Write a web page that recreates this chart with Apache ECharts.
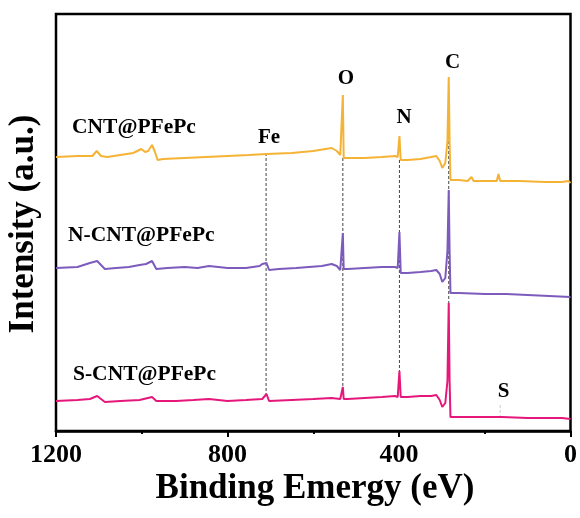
<!DOCTYPE html>
<html>
<head>
<meta charset="utf-8">
<script src="https://cdn.jsdelivr.net/npm/echarts@6/dist/echarts.min.js"></script>
<style>
  html, body { margin: 0; padding: 0; background: #fff; }
  #chart { width: 580px; height: 518px; }
</style>
</head>
<body>
<div id="chart"></div>
<script>
// XPS survey spectra, binding energy (eV) vs intensity (a.u., offset stacked)
const energyTicks = [1200, 800, 400, 0];

const cntEnergy = [1200,1150,1115,1105,1095,1080,1050,1020,1001,992,985,976,970,963,950,900,850,800,750,710,650,600,557,545,537,533,531,529,520,480,440,409,403,399,396,380,350,325,313,305,299,292,287,284,282,280,260,240,231,226,200,172,168,164,120,60,20,5,0];
const cntIntensity = [274,275,275,280,275,274,276,278,282,279,280,286,280,271,272,273,274,275,276,277,278,280,283,280,276,277,336,273,273,273,274,275,274,295,271,271,272,274,275,270,263,268,290,354,290,251,251,250,254,250,250,250,257,250,250,249,249,250,248];

const nEnergy = [1200,1150,1121,1104,1086,1060,1030,1005,990,976,966,940,900,870,843,800,757,725,719,709,703,680,640,580,557,545,537,533,531,529,520,480,440,409,403,399,396,380,350,325,313,305,299,292,287,284,282,280,260,200,150,100,50,0];
const nIntensity = [163,164,168,170,162,163,164,166,167,170,162,163,164,163,165,163,163,165,167,168,161,162,163,165,167,165,161,163,198,162,162,163,164,164,163,199,158,158,159,160,161,157,149,153,180,241,180,138,138,137,137,136,135,134];

const sEnergy = [1200,1150,1121,1104,1086,1050,1005,976,966,920,880,843,800,757,719,709,703,650,600,557,537,533,531,529,520,480,440,409,403,399,396,380,350,325,313,305,299,292,287,284,282,280,260,200,160,100,50,20,0];
const sIntensity = [30,31,32,35,29,30,31,34,30,30,31,32,30,31,32,37,30,31,32,33,32,32,44,32,32,33,34,35,34,60,34,34,35,35,36,31,24,28,50,128,50,14,14,14,14,13,13,13,12];

// element reference lines: energy, upper and lower intensity
const refNames = ['Fe', 'O', 'N', 'C', 'S'];
const refEnergy = [710, 531, 399, 284, 164];
const refTop = [278, 273, 271, 300, 26];
const refBottom = [34, 44, 60, 128, 15];
const refColors = ['#444', '#444', '#444', '#444', '#ccc'];

const seriesNames = ['CNT@PFePc', 'N-CNT@PFePc', 'S-CNT@PFePc'];
const seriesColors = ['#F5B336', '#7C5BBC', '#E6177B'];

const FONT = '"Times New Roman", "Liberation Serif", serif';

function pairs(xs, ys) { return xs.map((x, i) => [x, ys[i]]); }

const spectra = [
  pairs(cntEnergy, cntIntensity),
  pairs(nEnergy, nIntensity),
  pairs(sEnergy, sIntensity)
];

const series = [];
refEnergy.forEach((e, i) => {
  series.push({
    type: 'line', name: refNames[i] + ' ref', silent: true, z: 1,
    showSymbol: false,
    data: [[e, refTop[i]], [e, refBottom[i]]],
    lineStyle: { color: refColors[i], width: 1, type: [3, 2] }
  });
});
spectra.forEach((d, i) => {
  series.push({
    type: 'line', name: seriesNames[i], z: 3,
    showSymbol: false, smooth: false,
    data: d,
    lineStyle: { color: seriesColors[i], width: 2 }
  });
});

const chart = echarts.init(document.getElementById('chart'), null, { renderer: 'canvas' });

const textStyle = (size) => ({ fill: '#000', font: 'bold ' + size + 'px ' + FONT });

chart.setOption({
  animation: false,
  backgroundColor: '#fff',
  grid: { left: 56, right: 7, top: 14, bottom: 87, show: true, borderColor: '#000', borderWidth: 2.5, backgroundColor: 'transparent' },
  xAxis: {
    type: 'value', inverse: true, min: 0, max: 1200, interval: 400,
    axisLine: { show: true, lineStyle: { color: '#000', width: 2.5 } },
    axisTick: { show: true, length: 6, lineStyle: { color: '#000', width: 2 } },
    minorTick: { show: true, splitNumber: 2, length: 3, lineStyle: { color: '#000', width: 2 } },
    splitLine: { show: false },
    axisLabel: {
      color: '#000', fontFamily: FONT, fontWeight: 'bold', fontSize: 26, margin: 11,
      formatter: (v) => energyTicks.includes(v) ? String(v) : ''
    }
  },
  yAxis: { type: 'value', min: 0, max: 417, show: false },
  series: series,
  graphic: [
    { type: 'text', left: 72, top: 127 - 11, style: Object.assign({ text: seriesNames[0] }, textStyle(21.5)) },
    { type: 'text', left: 68, top: 235 - 11, style: Object.assign({ text: seriesNames[1] }, textStyle(21.5)) },
    { type: 'text', left: 73, top: 374 - 11, style: Object.assign({ text: seriesNames[2] }, textStyle(21.5)) },
    { type: 'text', x: 269, y: 138, style: Object.assign({ text: 'Fe', textAlign: 'center', textVerticalAlign: 'middle' }, textStyle(21)) },
    { type: 'text', x: 346, y: 79, style: Object.assign({ text: 'O', textAlign: 'center', textVerticalAlign: 'middle' }, textStyle(21)) },
    { type: 'text', x: 404, y: 118, style: Object.assign({ text: 'N', textAlign: 'center', textVerticalAlign: 'middle' }, textStyle(21)) },
    { type: 'text', x: 452.5, y: 63, style: Object.assign({ text: 'C', textAlign: 'center', textVerticalAlign: 'middle' }, textStyle(21)) },
    { type: 'text', x: 503.5, y: 392, style: Object.assign({ text: 'S', textAlign: 'center', textVerticalAlign: 'middle' }, textStyle(21)) },
    { type: 'text', x: 315, y: 489, style: Object.assign({ text: 'Binding Emergy (eV)', textAlign: 'center', textVerticalAlign: 'middle' }, textStyle(35)) },
    { type: 'text', x: 24, y: 224, rotation: Math.PI / 2, style: Object.assign({ text: 'Intensity (a.u.)', textAlign: 'center', textVerticalAlign: 'middle' }, textStyle(35)) }
  ]
});
</script>
</body>
</html>
